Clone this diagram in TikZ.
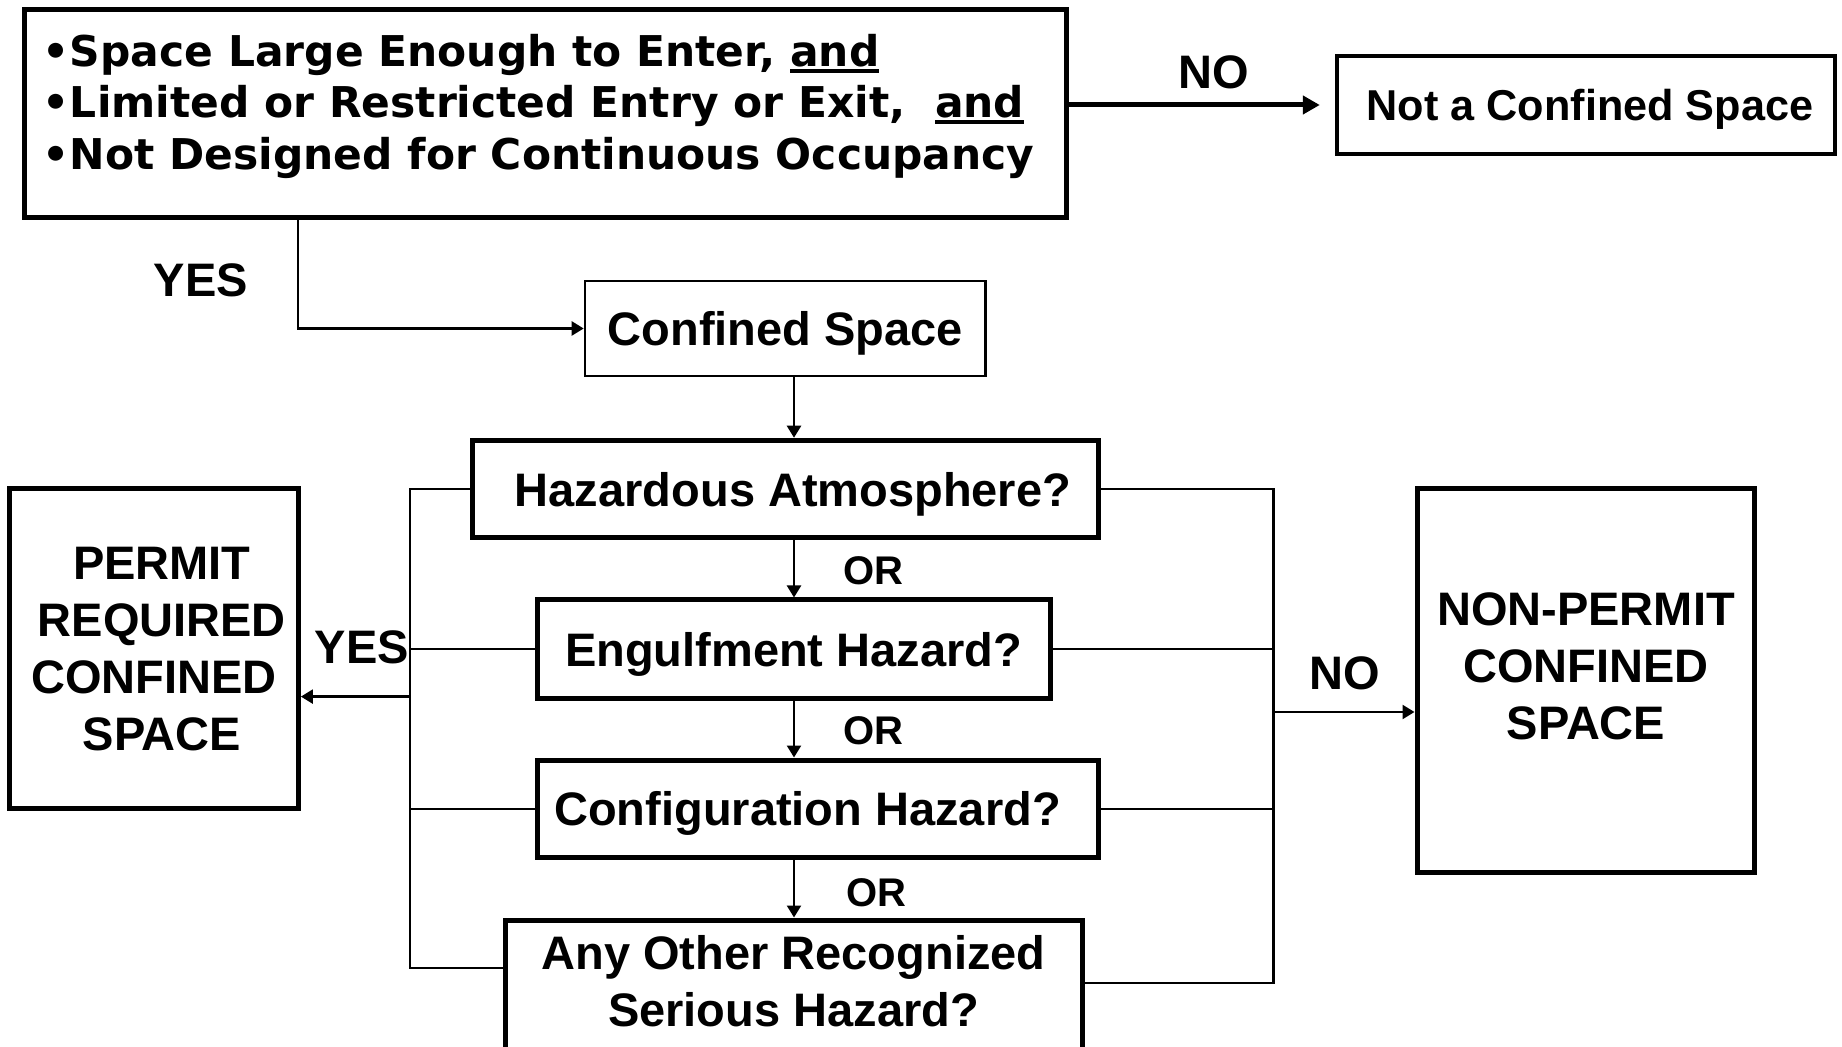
\documentclass[tikz,border=0pt]{standalone}
\usepackage{fontspec}
\setmainfont{Liberation Sans}
\newfontfamily\verdfont{DejaVu Sans}
\usetikzlibrary{arrows.meta}
\newsavebox\ulbox
\newcommand\ulword[1]{\sbox\ulbox{#1}\rlap{\rule[-2.8pt]{\wd\ulbox}{2pt}}\usebox\ulbox}
\begin{document}
\begin{tikzpicture}[x=0.5pt,y=-0.5pt,
  box/.style={draw, line width=2.5pt, inner sep=0pt, text depth=0pt, align=center,
    font=\fontsize{23.5}{28.5}\selectfont\bfseries},
  thinbox/.style={box, line width=1.3pt},
  lab/.style={inner sep=0pt, font=\fontsize{23.5}{28.5}\selectfont\bfseries},
  orlab/.style={inner sep=0pt, font=\fontsize{20}{24}\selectfont\bfseries},
  topline/.style={inner sep=0pt, anchor=base west, font=\fontsize{21.2}{25.5}\selectfont\verdfont\bfseries},
  conn/.style={line width=1.2pt},
  arr/.style={conn, -{Triangle[length=6pt,width=7pt]}},
  bigarr/.style={line width=2.5pt, -{Triangle[length=8.5pt,width=9pt]}, shorten >=7.5pt}]
\useasboundingbox (0,0) rectangle (1842,1047);
\fill[white] (0,0) rectangle (1842,1047);
\clip (0,0) rectangle (1842,1047);

% top box
\node[box, minimum width=521pt, minimum height=104pt] (top) at (545.6,113.3) {};
\node[topline] (l1) at (42.5,67) {•Space Large Enough to Enter, \ulword{and}};
\node[topline] (l2) at (42.5,118) {•Limited or Restricted Entry or Exit,\ \hspace{0.35em}\ulword{and}};
\node[topline] (l3) at (42.5,169.5) {•Not Designed for Continuous Occupancy};

\node[box, line width=2.2pt, minimum width=249pt, minimum height=49pt,
      font=\fontsize{21.6}{25}\selectfont\bfseries] (nocs) at (1586,105) {\hspace{4pt}Not a Confined Space};
\node[lab] (notop) at (1214,72.5) {NO};
\draw[bigarr] (top.east |- nocs.west) -- (nocs.west);

% confined space
\node[thinbox, minimum width=200.3pt, minimum height=47.5pt] (cs) at (785.3,328.5) {Confined Space};
\node[lab] (yestop) at (200.7,280) {YES};
\coordinate (yx) at (298,0);
\draw[arr] (top.south -| yx) |- (cs.west);

% hazard chain
\node[box, minimum width=313pt, minimum height=48.75pt] (haz) at (785,489) {\hspace{8pt}Hazardous Atmosphere?};
\node[box, minimum width=256.5pt, minimum height=49pt] (eng) at (793.5,649) {Engulfment Hazard?};
\node[box, minimum width=280.5pt, minimum height=48.75pt] (conf) at (817.5,808.75) {Configuration Hazard?\hspace{10pt}};
\node[box, minimum width=288.5pt, minimum height=71pt] (any) at (793.5,991) {};
\node[lab, align=center] (anytext) at (793.5,981.5) {Any Other Recognized\\Serious Hazard?};

\node[orlab] (or1) at (873,571) {OR};
\node[orlab] (or2) at (873,731) {OR};
\node[orlab] (or3) at (876,893) {OR};

\coordinate (ax) at (794,0);
\draw[arr] (cs.south -| ax) -- (haz.north -| ax);
\draw[arr] (haz.south -| ax) -- (eng.north -| ax);
\draw[arr] (eng.south -| ax) -- (conf.north -| ax);
\draw[arr] (conf.south -| ax) -- (any.north -| ax);

% permit required
\node[box, minimum width=144.5pt, minimum height=160pt] (permit) at (153.9,648.9)
  {\hspace{8pt}PERMIT\\\hspace{8pt}REQUIRED\\CONFINED\\\hspace{8pt}SPACE};
\node[lab] (yesl) at (362,647) {YES};

% non-permit
\node[box, minimum width=168.5pt, minimum height=192pt] (npcs) at (1585.5,680.9) {};
\node[lab, align=center] (nptext) at (1586,666.4) {NON-PERMIT\\CONFINED\\SPACE};
\node[lab] (nor) at (1345,673) {NO};

% left bus
\coordinate (lbx) at (410,0);
\coordinate (yl) at (0,968);
\coordinate (anyL) at (any.west |- yl);
\coordinate (yarr) at (0,696.6);
\draw[conn] (haz.west) -- (haz.west -| lbx) -- (anyL -| lbx) -- (anyL);
\draw[conn] (eng.west) -- (eng.west -| lbx);
\draw[conn] (conf.west) -- (conf.west -| lbx);
\draw[arr] (lbx |- yarr) -- (permit.east |- yarr);

% right bus
\coordinate (rbx) at (1273.5,0);
\coordinate (yr) at (0,983);
\coordinate (anyR) at (any.east |- yr);
\coordinate (narr) at (0,712);
\draw[conn] (haz.east) -- (haz.east -| rbx) -- (anyR -| rbx) -- (anyR);
\draw[conn] (eng.east) -- (eng.east -| rbx);
\draw[conn] (conf.east) -- (conf.east -| rbx);
\draw[arr] (rbx |- narr) -- (npcs.west |- narr);
\end{tikzpicture}
\end{document}
